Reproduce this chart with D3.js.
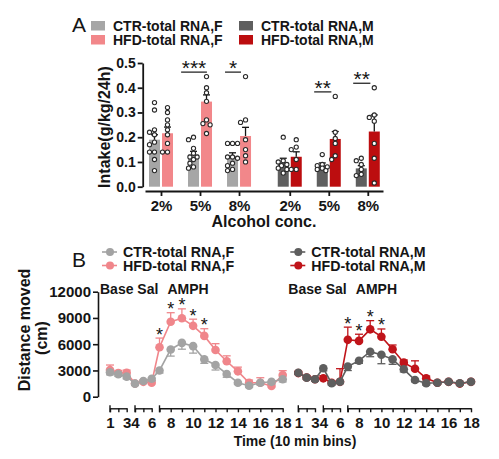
<!DOCTYPE html>
<html><head><meta charset="utf-8">
<script src="https://cdn.jsdelivr.net/npm/d3@7"></script>
<style>
body{margin:0;background:#fff}
svg{display:block;font-family:"Liberation Sans",Arial,Helvetica,sans-serif}
</style></head><body>
<svg id="c" width="499" height="459"></svg>
<script>
// ---------- Panel A data ----------
const concentrations = ["2%","5%","8%"];
const seriesA = ["CTR-total RNA,F","HFD-total RNA,F","CTR-total RNA,M","HFD-total RNA,M"];
const ctrF_mean = [0.19, 0.13, 0.125];
const ctrF_sem  = [0.02, 0.013, 0.012];
const hfdF_mean = [0.216, 0.344, 0.205];
const hfdF_sem  = [0.025, 0.027, 0.035];
const ctrM_mean = [0.097, 0.088, 0.074];
const ctrM_sem  = [0.018, 0.008, 0.011];
const hfdM_mean = [0.121, 0.193, 0.223];
const hfdM_sem  = [0.02, 0.03, 0.067];
const ctrF_dots = [[0.34,0.31,0.23,0.22,0.21,0.18,0.17,0.14,0.14,0.11,0.065],
                   [0.20,0.19,0.155,0.135,0.12,0.12,0.11,0.095,0.08,0.075],
                   [0.175,0.175,0.175,0.12,0.12,0.115,0.095,0.085,0.07,0.065]];
const hfdF_dots = [[0.32,0.30,0.27,0.25,0.23,0.21,0.175,0.14,0.14],
                   [0.445,0.40,0.38,0.345,0.27,0.255,0.25,0.215],
                   [0.445,0.27,0.26,0.19,0.15,0.125,0.10]];
const ctrM_dots = [[0.20,0.105,0.10,0.09,0.085,0.075,0.07,0.055],
                   [0.13,0.09,0.085,0.08,0.075,0.07,0.065],
                   [0.115,0.105,0.09,0.07,0.05,0.045]];
const hfdM_dots = [[0.19,0.16,0.15,0.11,0.07,0.07],
                   [0.365,0.22,0.195,0.175,0.125,0.11],
                   [0.40,0.29,0.28,0.265,0.175,0.115,0.015]];
// significance: [group index 0..5, label]
const sigA = [[1,"***"],[2,"*"],[4,"**"],[5,"**"]];
const yTicksA = [0,0.1,0.2,0.3,0.4,0.5];

// ---------- Panel B data ----------
const bins = d3.range(1,19);
const seriesB = ["CTR-total RNA,F","HFD-total RNA,F","CTR-total RNA,M","HFD-total RNA,M"];
const ctrF_dist = [2800,2570,2290,1490,1790,2050,3000,5400,6150,5780,4270,3620,2600,1600,1250,1600,1700,1990];
const ctrF_err  = [300,250,250,200,200,250,300,760,720,800,460,570,380,200,200,250,250,300];
const hfdF_dist = [3050,2700,2740,1500,1700,1600,5650,8570,8960,8100,6950,5340,4050,2900,1600,1600,1220,2480];
const hfdF_err  = [570,300,300,200,200,250,1050,1030,1080,760,820,720,620,480,300,570,300,500];
const ctrM_dist = [2740,2180,1990,3250,1530,1710,3450,4115,5140,4800,4270,3130,1910,1530,1600,1710,1530,1710];
const ctrM_err  = [200,200,200,300,200,200,460,300,570,1030,570,300,200,200,150,150,150,150];
const hfdM_dist = [2700,2200,2000,2100,1600,1700,6500,6380,7700,6860,5420,3890,3200,2100,1600,1700,1500,1700];
const hfdM_err  = [200,200,200,300,200,1500,1450,760,990,880,490,300,900,250,150,150,150,150];
const sigF = [7,8,9,10,11];
const sigM = [7,8,9,10];
const yTicksB = [0,3000,6000,9000,12000];
const xLabelsB = [1,3,4,6,8,10,12,14,16,18];
const segments = [[1,3],[4,6],[7,18]];
const phaseLabels = ["Base","Sal","AMPH"];

// ---------- colours ----------
const colA = {ctrF:"#a6a6a6", hfdF:"#f2878a", ctrM:"#5f5f5f", hfdM:"#bc0d0f"};
const colB = {ctrF:"#a3a3a3", hfdF:"#f0868b", ctrM:"#5e5e5e", hfdM:"#c0141a"};
const ink = "#151515";

const svg = d3.select("#c");

// =============== PANEL A ===============
const yA = d3.scaleLinear().domain([0,0.5]).range([186.7,63]);
const xA = d3.scaleLinear().domain([-0.41,5.69]).range([145,383]);
const gpos = g => g + (g >= 3 ? 0.3 : 0);

svg.append("text").attr("x",72).attr("y",32).attr("font-size",21).attr("fill",ink).text("A");

// legend A
const legA = [[seriesA[0],colA.ctrF,91,21],[seriesA[1],colA.hfdF,91,35],[seriesA[2],colA.ctrM,239,21],[seriesA[3],colA.hfdM,239,35]];
legA.forEach(([t,c,x,y])=>{
  svg.append("rect").attr("x",x).attr("y",y).attr("width",14).attr("height",9.5).attr("fill",c);
  svg.append("text").attr("x",x+22).attr("y",y+9.5).attr("font-size",14).attr("font-weight","bold").attr("fill",ink).text(t);
});

// y axis A
const gyA = svg.append("g").attr("transform","translate(142.7,0)")
  .call(d3.axisLeft(yA).tickValues(yTicksA).tickFormat(d3.format(".1f")).tickSize(5).tickSizeOuter(0).tickPadding(2));
gyA.selectAll("text").attr("font-size",14).attr("font-weight","bold").attr("fill",ink).attr("font-family","Liberation Sans,Arial");
gyA.selectAll("path,line").attr("stroke",ink).attr("stroke-width",1.8);
svg.append("text").attr("transform","translate(110,127) rotate(-90)").attr("text-anchor","middle")
  .attr("font-size",16).attr("font-weight","bold").attr("fill",ink).text("Intake(g/kg/24h)");

// x axis A
const gxA = svg.append("g").attr("transform","translate(0,191)")
  .call(d3.axisBottom(xA).tickValues([0,1,2,3,4,5].map(gpos)).tickFormat((d,i)=>concentrations[i%3]).tickSize(5).tickSizeOuter(0).tickPadding(4));
gxA.selectAll("text").attr("font-size",15).attr("font-weight","bold").attr("fill",ink).attr("font-family","Liberation Sans,Arial");
gxA.selectAll("path,line").attr("stroke",ink).attr("stroke-width",1.8);
svg.append("text").attr("x",264).attr("y",227).attr("text-anchor","middle").attr("font-size",16).attr("font-weight","bold").attr("fill",ink).text("Alcohol conc.");

// bars
const barW = 11;
const barSets = [];
for (let g=0; g<6; g++){
  const k = g%3, male = g>=3;
  barSets.push({g, side:-1, mean: male?ctrM_mean[k]:ctrF_mean[k], sem: male?ctrM_sem[k]:ctrF_sem[k], dots: male?ctrM_dots[k]:ctrF_dots[k], col: male?colA.ctrM:colA.ctrF});
  barSets.push({g, side: 1, mean: male?hfdM_mean[k]:hfdF_mean[k], sem: male?hfdM_sem[k]:hfdF_sem[k], dots: male?hfdM_dots[k]:hfdF_dots[k], col: male?colA.hfdM:colA.hfdF});
}
const barX = b => xA(gpos(b.g)) + (b.side<0 ? -12 : 1);
const bars = svg.append("g");
bars.selectAll("rect").data(barSets).join("rect")
  .attr("x",barX).attr("y",b=>yA(b.mean)).attr("width",barW).attr("height",b=>yA(0)-yA(b.mean)).attr("fill",b=>b.col);
// error bars
barSets.forEach(b=>{
  const cx = barX(b)+barW/2;
  svg.append("line").attr("x1",cx).attr("x2",cx).attr("y1",yA(b.mean)).attr("y2",yA(b.mean+b.sem)).attr("stroke",ink).attr("stroke-width",1.3);
  svg.append("line").attr("x1",cx-3.5).attr("x2",cx+3.5).attr("y1",yA(b.mean+b.sem)).attr("y2",yA(b.mean+b.sem)).attr("stroke",ink).attr("stroke-width",1.3);
});
// dots (simple beeswarm inside each bar)
const offs = [0,-3.6,3.6,-1.8,1.8,-5,5];
barSets.forEach(b=>{
  const cx = barX(b)+barW/2;
  const placed = [];
  b.dots.slice().sort((a,c)=>c-a).forEach(v=>{
    const y = yA(v);
    let best = null, bestScore = Infinity;
    for (const o of offs){
      let s = 0;
      placed.forEach(p=>{ const d = Math.hypot(p[0]-(cx+o), p[1]-y); if (d<4.6) s += 4.6-d; });
      if (s < bestScore - 1e-9){ bestScore = s; best = o; }
      if (s === 0) break;
    }
    placed.push([cx+best, y]);
  });
  svg.append("g").selectAll("circle").data(placed).join("circle")
    .attr("cx",p=>p[0]).attr("cy",p=>p[1]).attr("r",2.1)
    .attr("fill","#fff").attr("stroke","#2a2a2a").attr("stroke-width",1.1);
});
// significance A
sigA.forEach(([g,lab])=>{
  const k=g%3, male=g>=3;
  const all = (male?ctrM_dots[k]:ctrF_dots[k]).concat(male?hfdM_dots[k]:hfdF_dots[k]);
  const ly = yA(d3.max(all)) - 4.5;
  const cx = xA(gpos(g)) - 6;
  const hw = Math.max(8, lab.length*4.3);
  svg.append("line").attr("x1",cx-hw).attr("x2",cx+hw).attr("y1",ly).attr("y2",ly).attr("stroke",ink).attr("stroke-width",1.2);
  svg.append("text").attr("x",cx).attr("y",ly+3).attr("text-anchor","middle").attr("font-size",21).attr("fill",ink).text(lab);
});

// =============== PANEL B ===============
const yB = d3.scaleLinear().domain([0,12000]).range([396.7,291.7]);
const xBF = d3.scaleLinear().domain([1,6,7,18]).range([110,151.7,159.5,282.7]);
const xBM = d3.scaleLinear().domain([1,6,7,18]).range([298.3,340,347.8,471]);

svg.append("text").attr("x",72).attr("y",267).attr("font-size",21).attr("fill",ink).text("B");

// legend B
const legB = [[seriesB[0],colB.ctrF,110,252],[seriesB[1],colB.hfdF,110,265.5],[seriesB[2],colB.ctrM,298.3,252],[seriesB[3],colB.hfdM,298.3,265.5]];
legB.forEach(([t,c,x,y])=>{
  svg.append("line").attr("x1",x-8).attr("x2",x+7).attr("y1",y).attr("y2",y).attr("stroke",c).attr("stroke-width",1.6);
  svg.append("circle").attr("cx",x).attr("cy",y).attr("r",4).attr("fill",c);
  svg.append("text").attr("x",x+13).attr("y",y+5).attr("font-size",14.2).attr("font-weight","bold").attr("fill",ink).text(t);
});

// y axis B
const gyB = svg.append("g").attr("transform","translate(98,0)")
  .call(d3.axisLeft(yB).tickValues(yTicksB).tickSize(5).tickSizeOuter(0).tickPadding(2).tickFormat(d3.format("d")));
gyB.selectAll("text").attr("font-size",15).attr("font-weight","bold").attr("fill",ink).attr("font-family","Liberation Sans,Arial");
gyB.selectAll("path,line").attr("stroke",ink).attr("stroke-width",1.6);
svg.append("text").attr("transform","translate(30,330) rotate(-90)").attr("text-anchor","middle")
  .attr("font-size",16).attr("font-weight","bold").attr("fill",ink).text("Distance moved");
svg.append("text").attr("transform","translate(47,338) rotate(-90)").attr("text-anchor","middle")
  .attr("font-size",16).attr("font-weight","bold").attr("fill",ink).text("(cm)");

// x axes B (segmented)
[xBF, xBM].forEach(xs=>{
  segments.forEach(([a,b])=>{
    const sub = d3.scaleLinear().domain([a,b]).range([xs(a),xs(b)]);
    const g = svg.append("g").attr("transform","translate(0,408.3)")
      .call(d3.axisBottom(sub).tickValues(d3.range(a,b+1)).tickFormat(d=>xLabelsB.includes(d)?d:"").tickSize(4).tickSizeOuter(0).tickPadding(5));
    g.selectAll("text").attr("font-size",15).attr("font-weight","bold").attr("fill",ink).attr("font-family","Liberation Sans,Arial");
    g.selectAll("path,line").attr("stroke",ink).attr("stroke-width",1.4);
    g.append("line").attr("x1",xs(a)).attr("x2",xs(a)).attr("y1",-3).attr("y2",4).attr("stroke",ink).attr("stroke-width",1.4);
  });
  // phase labels
  svg.append("text").attr("x",xs(1)-10).attr("y",293.5).attr("font-size",14).attr("font-weight","bold").attr("fill",ink)
    .text(phaseLabels[0] + " " + phaseLabels[1]);
  svg.append("text").attr("x",xs(7)+8).attr("y",293.5).attr("font-size",14).attr("font-weight","bold").attr("fill",ink).text(phaseLabels[2]);
});
svg.append("text").attr("x",295).attr("y",446).attr("text-anchor","middle").attr("font-size",14).attr("font-weight","bold").attr("fill",ink).text("Time (10 min bins)");

// series
function drawSeries(xs, vals, errs, col, dir){
  const g = svg.append("g");
  bins.forEach((b,i)=>{
    const cx = xs(b), y0 = yB(vals[i]), y1 = yB(vals[i] + dir*errs[i]);
    g.append("line").attr("x1",cx).attr("x2",cx).attr("y1",y0).attr("y2",y1).attr("stroke",col).attr("stroke-width",1.3);
    g.append("line").attr("x1",cx-4).attr("x2",cx+4).attr("y1",y1).attr("y2",y1).attr("stroke",col).attr("stroke-width",1.3);
  });
  const line = d3.line().x((d,i)=>xs(bins[i])).y(d=>yB(d));
  g.append("path").attr("d",line(vals)).attr("fill","none").attr("stroke",col).attr("stroke-width",1.6);
  g.selectAll("circle").data(vals).join("circle").attr("cx",(d,i)=>xs(bins[i])).attr("cy",d=>yB(d)).attr("r",4.3).attr("fill",col);
}
drawSeries(xBF, hfdF_dist, hfdF_err, colB.hfdF, 1);
drawSeries(xBF, ctrF_dist, ctrF_err, colB.ctrF, -1);
drawSeries(xBM, hfdM_dist, hfdM_err, colB.hfdM, 1);
drawSeries(xBM, ctrM_dist, ctrM_err, colB.ctrM, -1);

// stars B
function stars(xs, sig, vals, errs){
  sig.forEach(b=>{
    const i = bins.indexOf(b);
    svg.append("text").attr("x",xs(b)).attr("y",yB(vals[i]+errs[i])+2.5).attr("text-anchor","middle")
      .attr("font-size",18).attr("fill",ink).text("*");
  });
}
stars(xBF, sigF, hfdF_dist, hfdF_err);
stars(xBM, sigM, hfdM_dist, hfdM_err);
</script>
</body></html>
